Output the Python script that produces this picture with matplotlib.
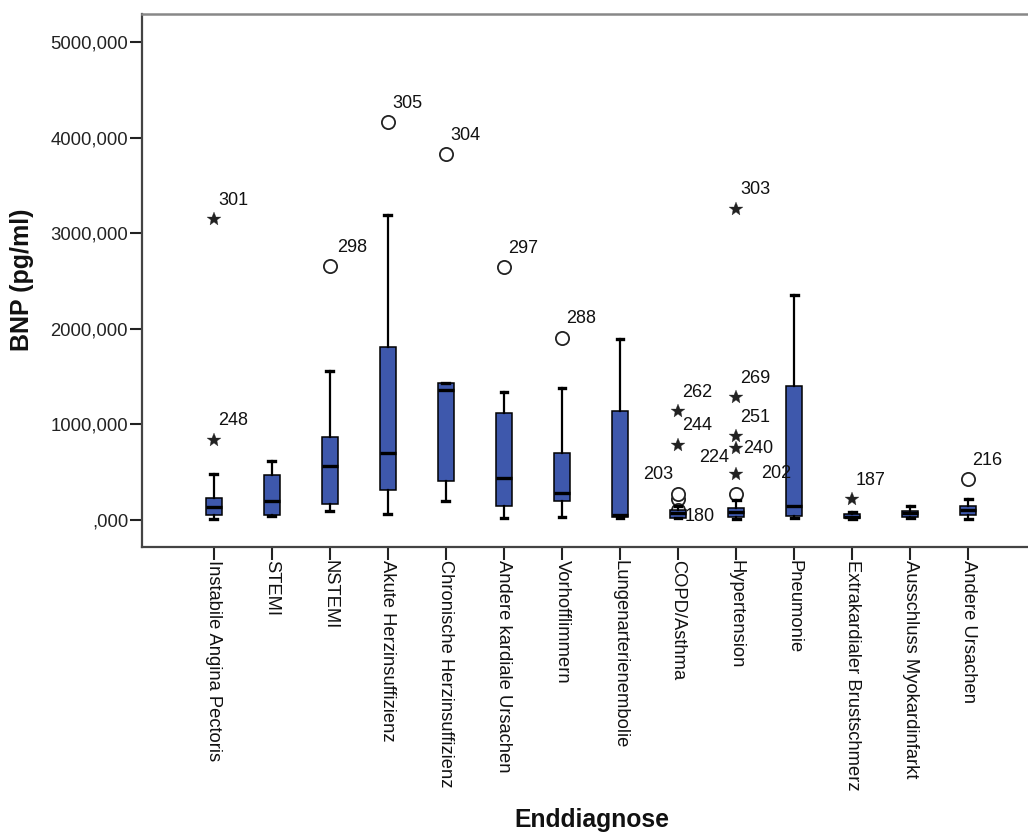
import numpy as np
import matplotlib
matplotlib.use("Agg")
import matplotlib.pyplot as plt
from matplotlib.ticker import MultipleLocator, FuncFormatter

plt.rcParams['font.family'] = ['Liberation Sans', 'DejaVu Sans']

# Enddiagnose categories
kategorien = ["Instabile Angina Pectoris", "STEMI", "NSTEMI",
              "Akute Herzinsuffizienz", "Chronische Herzinsuffizienz",
              "Andere kardiale Ursachen", "Vorhofflimmern",
              "Lungenarterienembolie", "COPD/Asthma", "Hypertension",
              "Pneumonie", "Extrakardialer Brustschmerz",
              "Ausschluss Myokardinfarkt", "Andere Ursachen"]

# box statistics (pg/ml)
whisk_lo = [7, 40, 93, 63, 201, 19, 37, 19, 19, 7, 19, 7, 26, 7]
q1 = [56, 52, 168, 313, 406, 145, 201, 37, 26, 37, 45, 19, 37, 56]
median = [138, 201, 566, 697, 1356, 436, 287, 56, 75, 89, 145, 37, 71, 100]
q3 = [231, 466, 868, 1814, 1434, 1118, 697, 1136, 100, 130, 1397, 63, 93, 149]
whisk_hi = [480, 615, 1554, 3186, 1434, 1341, 1379, 1889, 150, 212, 2355, 82, 149, 220]

# outliers (o) : category index, value, case number
kreis_kat = [2, 3, 4, 5, 6, 8, 8, 8, 9, 13]
kreis_wert = [2653, 4162, 3826, 2642, 1908, 220, 268, 100, 276, 428]
kreis_label = ["298", "305", "304", "297", "288", "", "203", "180", "202", "216"]

# extremes (*)
stern_kat = [0, 0, 8, 8, 9, 9, 9, 9, 9, 11]
stern_wert = [838, 3148, 1136, 790, 3256, 1285, 876, 753, 481, 220]
stern_label = ["248", "301", "262", "244", "303", "269", "251", "240", "224", "187"]

# label offsets in pixels (dx, dy, ha), default is upper right
DEF_OFF = (4, 19, 'left')
spez_off = {"203": (-5, 20, 'right'), "180": (7, -6, 'left'),
            "240": (7, 0, 'left'), "224": (-7, 17, 'right'),
            "202": (25, 20, 'left'), "298": (7, 19, 'left')}

BLAU = '#3E58AC'
PX = 72.0 / 100

fig = plt.figure(figsize=(10.28, 8.34), dpi=100)
ax = fig.add_axes([142/1028, 1-547/834, (1040-142)/1028, (547-14)/834])

stats = []
for i in range(len(kategorien)):
    stats.append(dict(med=median[i], q1=q1[i], q3=q3[i],
                      whislo=whisk_lo[i], whishi=whisk_hi[i], fliers=[]))

pos = np.arange(len(kategorien))
ax.bxp(stats, positions=pos, widths=0.27, showfliers=False, patch_artist=True,
       capwidths=0.12,
       boxprops=dict(facecolor=BLAU, edgecolor='black', linewidth=1.1),
       medianprops=dict(color='black', linewidth=2.4, solid_capstyle='butt'),
       whiskerprops=dict(color='black', linewidth=1.6),
       capprops=dict(color='black', linewidth=2.4), zorder=3)

ax.plot(kreis_kat, kreis_wert, linestyle='none', marker='o', markersize=9.5,
        markerfacecolor='white', markeredgecolor='#222222', markeredgewidth=1.3,
        zorder=2)
ax.plot(stern_kat, stern_wert, linestyle='none', marker='*', markersize=10,
        color='#222222', markeredgewidth=0.2, zorder=4)

for kat, wert, lab in zip(kreis_kat + stern_kat, kreis_wert + stern_wert,
                          kreis_label + stern_label):
    if not lab:
        continue
    dx, dy, ha = spez_off.get(lab, DEF_OFF)
    ax.annotate(lab, (kat, wert), xytext=(dx*PX, dy*PX), textcoords='offset points',
                ha=ha, va='center', fontsize=13, color='#111111', zorder=5)

ax.set_xlim(-1.24, 14.24)
ax.set_ylim(-282, 5293)
ax.yaxis.set_major_locator(MultipleLocator(1000))

def fmt(v, p):
    s = "%.3f" % v
    s = s.replace('.', ',')
    if s.startswith('0,'):
        s = s[1:]
    return s
ax.yaxis.set_major_formatter(FuncFormatter(fmt))

ax.set_xticks(pos)
ax.set_xticklabels(kategorien, rotation=270, fontsize=13.2, color='#111111')
ax.tick_params(axis='x', length=9, width=1.5, pad=0.5, color='#222222')
ax.tick_params(axis='y', length=9, width=1.5, pad=1, color='#222222',
               labelsize=13.3, labelcolor='#222222')

for s in ['left', 'bottom']:
    ax.spines[s].set_color('#444444')
    ax.spines[s].set_linewidth(1.6)
ax.spines['top'].set_color('#888888')
ax.spines['top'].set_linewidth(1.8)
ax.spines['right'].set_visible(False)

fig.text(22/1028, 1-280/834, "BNP (pg/ml)", rotation=90, ha='center', va='center',
         fontsize=18, fontweight='bold', color='#111111')
fig.text(592/1028, 1-820/834, "Enddiagnose", ha='center', va='center',
         fontsize=17.8, fontweight='bold', color='#111111')

fig.savefig("out.png", dpi=100)
